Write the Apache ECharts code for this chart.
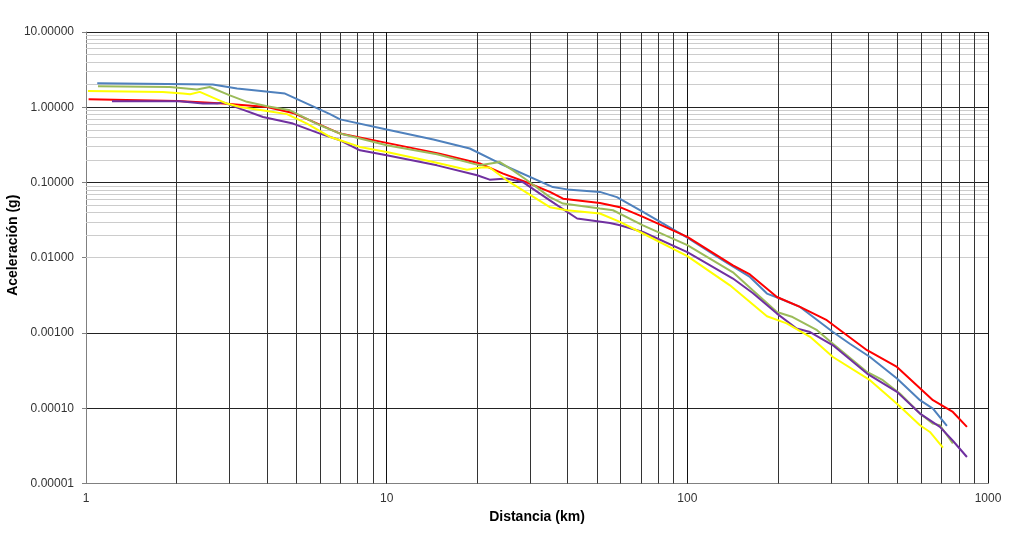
<!DOCTYPE html>
<html>
<head>
<meta charset="utf-8">
<script src="https://cdn.jsdelivr.net/npm/echarts@6/dist/echarts.min.js"></script>
<style>
html,body{margin:0;padding:0;background:#fff;}
#chart{width:1024px;height:545px;}
</style>
</head>
<body>
<div id="chart"></div>
<script>
// ---- data (distance km, acceleration g) ----
const seriesBlue = [[1.09,2.08],[2.64,2.0],[3.18,1.77],[4.59,1.52],[6.48,0.81],[7.0,0.69],[10,0.506],[14.3,0.372],[18.9,0.283],[23.8,0.179],[35.7,0.087],[39.8,0.081],[51.2,0.075],[58.3,0.064],[71.2,0.0406],[100,0.0185],[131,0.0093],[161.5,0.00556],[184,0.00334],[203,0.00287],[237,0.00222],[305,0.00103],[347,0.00072],[405,0.00048],[498,0.000248],[594,0.000128],[656,0.0000991],[730,0.0000582]];
const seriesRed = [[1.02,1.277],[2.01,1.21],[2.86,1.12],[4.0,1.01],[4.88,0.84],[7.0,0.447],[10,0.336],[15,0.242],[20.4,0.179],[24.4,0.131],[29.3,0.1],[34.9,0.075],[38.6,0.061],[51.2,0.0535],[59.7,0.047],[71.2,0.0349],[100,0.0189],[141.8,0.0079],[161.5,0.006],[198.6,0.00301],[237,0.00222],[291,0.00148],[396,0.00059],[498,0.000354],[656,0.000128],[764,0.0000893],[851,0.0000565]];
const seriesGreen = [[1.096,1.9],[1.9,1.86],[2.34,1.72],[2.58,1.86],[3.01,1.44],[3.43,1.18],[4.0,1.03],[4.77,0.91],[6.0,0.576],[7.0,0.447],[8.15,0.384],[10,0.313],[14.7,0.237],[20.4,0.169],[23.8,0.187],[26.3,0.145],[29.3,0.107],[34.9,0.064],[38.6,0.0525],[51.2,0.045],[56.6,0.0428],[71.2,0.027],[100,0.0147],[141.8,0.0064],[165,0.0037],[198.6,0.0019],[224,0.00163],[270,0.00109],[305,0.00072],[396,0.000304],[447,0.000236],[509,0.000157],[594,0.000085],[656,0.0000625],[692,0.0000594],[764,0.000034]];
const seriesPurple = [[1.22,1.2],[2.05,1.2],[2.45,1.12],[2.73,1.12],[2.86,1.16],[3.25,0.96],[3.88,0.743],[4.88,0.607],[6.0,0.447],[7.0,0.364],[8.15,0.268],[10,0.23],[14.7,0.169],[20,0.125],[22,0.109],[25.1,0.113],[28.4,0.101],[34.9,0.058],[43,0.0332],[55.3,0.029],[59.7,0.027],[71.2,0.022],[100,0.0119],[141.8,0.00529],[165,0.0034],[198.6,0.00181],[231,0.00115],[256,0.00103],[305,0.000687],[396,0.000289],[498,0.000165],[594,0.000085],[692,0.0000565],[764,0.000037],[851,0.0000225]];
const seriesYellow = [[1.015,1.65],[1.8,1.6],[2.1,1.52],[2.22,1.49],[2.39,1.6],[2.94,1.12],[3.25,1.01],[4.0,0.89],[4.66,0.81],[5.43,0.607],[6.48,0.403],[7.0,0.364],[8.15,0.297],[10,0.255],[14.3,0.187],[18.5,0.148],[20.9,0.16],[22,0.158],[25.1,0.107],[34.9,0.047],[39.8,0.0428],[51.2,0.0387],[59.7,0.03],[71.2,0.021],[100,0.0105],[138.6,0.0043],[184,0.00167],[214,0.00134],[256,0.00089],[305,0.00048],[405,0.000236],[498,0.000115],[594,0.0000594],[641,0.0000484],[708,0.00003]];

// ---- axes / ticks ----
const xDecades = [1, 10, 100];
const yDecades = [0.00001, 0.0001, 0.001, 0.01, 0.1, 1];
const minorMultipliers = [2, 3, 4, 5, 6, 7, 8, 9];
const xMin = 1, xMax = 1000;
const yMin = 0.00001, yMax = 10;
const xTitle = 'Distancia (km)';
const yTitle = 'Aceleración (g)';

const xMinor = [];
xDecades.forEach(d => minorMultipliers.forEach(m => xMinor.push(+(d * m).toPrecision(6))));
const yMinor = [];
yDecades.forEach(d => minorMultipliers.forEach(m => yMinor.push(+(d * m).toPrecision(6))));
const xMajorInner = [10, 100];

const FONT = '"Liberation Sans", Arial, sans-serif';

function lineSeries(name, data, color) {
  return {
    name, type: 'line', data, showSymbol: false, symbol: 'none', smooth: false,
    lineStyle: { color, width: 2 }, z: 5, animation: false
  };
}

const chart = echarts.init(document.getElementById('chart'), null, { renderer: 'canvas' });
chart.setOption({
  backgroundColor: '#ffffff',
  animation: false,
  grid: { left: 86, right: 36, top: 32, bottom: 61.5, containLabel: false, outerBoundsMode: 'none' },
  xAxis: {
    type: 'log', logBase: 10, min: xMin, max: xMax,
    name: xTitle, nameLocation: 'middle', nameGap: 27, nameMoveOverlap: false,
    nameTextStyle: { fontFamily: FONT, fontSize: 14, fontWeight: 'bold', color: '#000' },
    axisLine: { show: true, lineStyle: { color: '#808080', width: 1 } },
    axisTick: { show: false },
    axisLabel: { fontFamily: FONT, fontSize: 12, color: '#333', margin: 9,
      formatter: v => String(Math.round(v)) },
    splitLine: { show: true, lineStyle: { color: '#111', width: 1 } },
    minorTick: { show: false }, minorSplitLine: { show: false }
  },
  yAxis: {
    type: 'log', logBase: 10, min: yMin, max: yMax,
    name: yTitle, nameLocation: 'middle', nameGap: 66, nameRotate: 90, nameMoveOverlap: false,
    nameTextStyle: { fontFamily: FONT, fontSize: 14, fontWeight: 'bold', color: '#000', padding: [0, 0, 0, 25] },
    axisLine: { show: true, lineStyle: { color: '#808080', width: 1 } },
    axisTick: { show: true, inside: false, length: 4, lineStyle: { color: '#808080' } },
    axisLabel: { fontFamily: FONT, fontSize: 12, color: '#333', margin: 12,
      formatter: v => Number(v).toFixed(5) },
    splitLine: { show: true, lineStyle: { color: '#222', width: 1 } },
    minorTick: { show: false }, minorSplitLine: { show: false }
  },
  series: [
    {
      name: 'grid', type: 'line', data: [], z: 1, silent: true, animation: false,
      markLine: {
        silent: true, symbol: ['none', 'none'], animation: false,
        label: { show: false },
        data: [
          ...yMinor.map(v => ({ yAxis: v, lineStyle: { color: '#cccccc', width: 1, type: 'solid' } })),
          ...xMinor.map(v => ({ xAxis: v, lineStyle: { color: '#333333', width: 1, type: 'solid' } })),
          ...xMajorInner.map(v => ({ xAxis: v, lineStyle: { color: '#111111', width: 1, type: 'solid' } }))
        ]
      }
    },
    lineSeries('Serie 1', seriesBlue, '#4F81BD'),
    lineSeries('Serie 2', seriesRed, '#FF0000'),
    lineSeries('Serie 3', seriesGreen, '#9BBB59'),
    lineSeries('Serie 4', seriesPurple, '#7030A0'),
    lineSeries('Serie 5', seriesYellow, '#FFFF00')
  ]
});
</script>
</body>
</html>
